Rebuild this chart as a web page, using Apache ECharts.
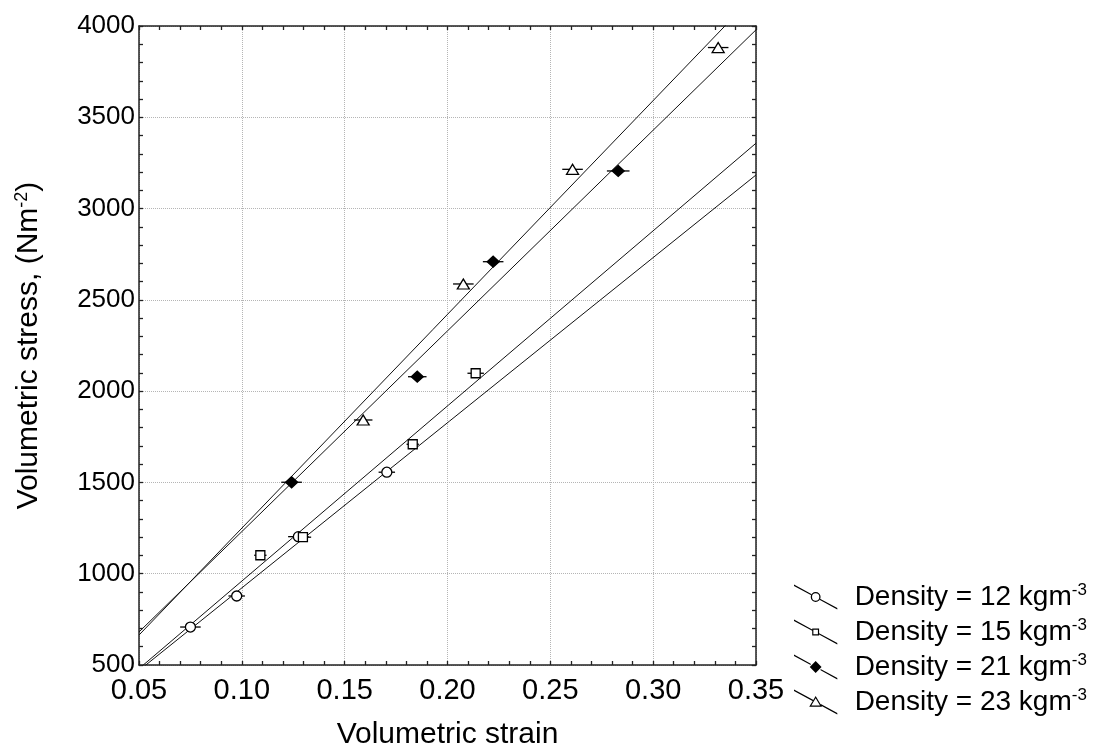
<!DOCTYPE html>
<html>
<head>
<meta charset="utf-8">
<title>Volumetric stress vs strain</title>
<script src="https://cdn.jsdelivr.net/npm/echarts@6/dist/echarts.min.js"></script>
<style>
html, body { margin: 0; padding: 0; background: #fff; }
#chart { width: 1099px; height: 745px; }
</style>
</head>
<body>
<div id="chart"></div>
<script>
var densities = [12, 15, 21, 23];

// measured points (strain, stress) and horizontal error (+/- strain)
var strain12 = [0.075, 0.0975, 0.1275, 0.1705];
var stress12 = [708, 878, 1203, 1556];
var err12 = [0.005, 0.004, 0.005, 0.004];

var strain15 = [0.109, 0.1297, 0.1831, 0.2137];
var stress15 = [1101, 1200, 1709, 2098];
var err15 = [0.003, 0.004, 0.003, 0.004];

var strain21 = [0.1242, 0.1853, 0.2222, 0.283];
var stress21 = [1501, 2079, 2709, 3206];
var err21 = [0.005, 0.0045, 0.005, 0.0055];

var strain23 = [0.159, 0.2077, 0.2608, 0.3316];
var stress23 = [1842, 2587, 3215, 3882];
var err23 = [0.0045, 0.005, 0.005, 0.005];

// fitted lines, read at both ends of the strain axis
var fitStrain = [0.05, 0.35];
var fit12 = [470, 3184];
var fit15 = [480, 3358];
var fit21 = [681, 3979];
var fit23 = [664, 4177];

var xTicks = [0.05, 0.35, 0.05];   // min, max, interval
var yTicks = [500, 4000, 500];

var font = 'Liberation Sans, Arial, sans-serif';

function pairs(xs, ys) {
	return xs.map(function(x, i) { return [x, ys[i]]; });
}
function triples(xs, ys, es) {
	return xs.map(function(x, i) { return [x, ys[i], es[i]]; });
}
function seriesName(d) {
	return 'Density = ' + d + ' kgm-3';
}

// legend icons: diagonal line with the marker in the middle
var icons = {
	12: 'path://M0,0L17.6,9.6L17.6,11L0,1.4Z M26.4,14.4L44,24L44,25.4L26.4,15.8Z' +
		' M17,12.7A5,5 0 1,1 27,12.7A5,5 0 1,1 17,12.7Z M18.3,12.7A3.7,3.7 0 1,0 25.7,12.7A3.7,3.7 0 1,0 18.3,12.7Z',
	15: 'path://M0,0L18.5,10.1L18.5,11.5L0,1.4Z M25.5,13.9L44,24L44,25.4L25.5,15.3Z' +
		' M18.5,9.2L25.5,9.2L25.5,16.2L18.5,16.2Z M19.7,10.4L19.7,15L24.3,15L24.3,10.4Z',
	21: 'path://M0,0L17,9.3L17,10.7L0,1.4Z M27,14.7L44,24L44,25.4L27,16.1Z' +
		' M22,6.5L28,12.7L22,18.9L16,12.7Z',
	23: 'path://M0,0L19.3,10.5L19.3,11.9L0,1.4Z M27.2,14.8L44,24L44,25.4L27.2,16.2Z' +
		' M22,6.5L28.5,17.5L15.5,17.5Z M22,8.9L17.6,16.3L26.4,16.3Z'
};

function renderErr(params, api) {
	var y = api.value(1);
	var a = api.coord([api.value(0) - api.value(2), y]);
	var b = api.coord([api.value(0) + api.value(2), y]);
	return {
		type: 'line',
		shape: { x1: a[0], y1: a[1], x2: b[0], y2: b[1] },
		style: { stroke: '#000', lineWidth: 1.3 }
	};
}

var groups = [
	{ d: 12, xs: strain12, ys: stress12, es: err12, fit: fit12, symbol: 'circle', size: 10, fill: '#fff' },
	{ d: 15, xs: strain15, ys: stress15, es: err15, fit: fit15, symbol: 'rect', size: 9, fill: '#fff' },
	{ d: 21, xs: strain21, ys: stress21, es: err21, fit: fit21, symbol: 'diamond', size: [12, 11], fill: '#000' },
	{ d: 23, xs: strain23, ys: stress23, es: err23, fit: fit23, symbol: 'triangle', size: [12, 10], fill: '#fff' }
];

var series = [];
groups.forEach(function(g) {
	series.push({
		name: 'fit' + g.d,
		type: 'line',
		data: pairs(fitStrain, g.fit),
		showSymbol: false,
		clip: true,
		silent: true,
		lineStyle: { color: '#111', width: 1 },
		z: 2
	});
});
groups.forEach(function(g) {
	series.push({
		name: 'err' + g.d,
		type: 'custom',
		renderItem: renderErr,
		data: triples(g.xs, g.ys, g.es),
		encode: { x: 0, y: 1 },
		silent: true,
		z: 3
	});
});
groups.forEach(function(g) {
	series.push({
		name: seriesName(g.d),
		type: 'scatter',
		data: pairs(g.xs, g.ys),
		symbol: g.symbol,
		symbolSize: g.size,
		itemStyle: { color: g.fill, borderColor: '#000', borderWidth: 1.3, opacity: 1 },
		z: 4
	});
});

var tickStyle = { inside: true, length: 4, lineStyle: { color: '#222', width: 1.3 } };
var minorStyle = { show: true, splitNumber: 5, length: 4, lineStyle: { color: '#222', width: 1.3 } };
var axisLine = { show: true, onZero: false, lineStyle: { color: '#222', width: 1.5 } };
var splitLine = { show: true, lineStyle: { color: '#b5b5b5', type: 'dotted', width: 1 } };

var myChart = echarts.init(document.getElementById('chart'));
var option = {
	backgroundColor: '#fff',
	animation: false,
	grid: {
		left: 139,
		right: 343,
		top: 26,
		bottom: 80,
		containLabel: false,
		outerBoundsMode: 'none'
	},
	legend: {
		orient: 'vertical',
		left: 789,
		top: 577,
		itemWidth: 68,
		itemHeight: 25,
		itemGap: 6,
		data: groups.map(function(g) {
			return { name: seriesName(g.d), icon: icons[g.d] };
		}),
		itemStyle: { color: '#000', borderWidth: 0 },
		formatter: function(name) {
			return '{a|' + name.replace(/-3$/, '') + '}{s|-3}';
		},
		textStyle: {
			color: '#000',
			fontFamily: font,
			fontSize: 28,
			rich: {
				a: { fontFamily: font, fontSize: 28, lineHeight: 30, color: '#000' },
				s: { fontFamily: font, fontSize: 17, lineHeight: 30, verticalAlign: 'top', color: '#000' }
			}
		}
	},
	xAxis: [{
		type: 'value',
		min: xTicks[0],
		max: xTicks[1],
		interval: xTicks[2],
		name: 'Volumetric strain',
		nameLocation: 'middle',
		nameGap: 55,
		nameTextStyle: { fontFamily: font, fontSize: 30, color: '#000', verticalAlign: 'top' },
		axisLine: axisLine,
		axisTick: tickStyle,
		minorTick: minorStyle,
		splitLine: splitLine,
		axisLabel: {
			margin: 11,
			fontFamily: font,
			fontSize: 29,
			color: '#000',
			formatter: function(v) { return v.toFixed(2); }
		}
	}, {
		type: 'value',
		position: 'top',
		min: xTicks[0],
		max: xTicks[1],
		interval: xTicks[2],
		axisLine: axisLine,
		axisTick: tickStyle,
		minorTick: minorStyle,
		splitLine: { show: false },
		axisLabel: { show: false }
	}],
	yAxis: [{
		type: 'value',
		min: yTicks[0],
		max: yTicks[1],
		interval: yTicks[2],
		name: '{a|Volumetric stress, (Nm}{s|-2}{a|)}',
		nameLocation: 'middle',
		nameGap: 94,
		nameTextStyle: {
			fontFamily: font,
			fontSize: 30,
			color: '#000',
			rich: {
				a: { fontFamily: font, fontSize: 30, lineHeight: 32, color: '#000' },
				s: { fontFamily: font, fontSize: 18, lineHeight: 32, verticalAlign: 'top', color: '#000' }
			}
		},
		axisLine: axisLine,
		axisTick: tickStyle,
		minorTick: minorStyle,
		splitLine: splitLine,
		axisLabel: {
			margin: 4,
			fontFamily: font,
			fontSize: 26,
			color: '#000',
			formatter: function(v) { return String(v); }
		}
	}, {
		type: 'value',
		position: 'right',
		min: yTicks[0],
		max: yTicks[1],
		interval: yTicks[2],
		axisLine: axisLine,
		axisTick: tickStyle,
		minorTick: minorStyle,
		splitLine: { show: false },
		axisLabel: { show: false }
	}],
	series: series
};
myChart.setOption(option);
</script>
</body>
</html>
